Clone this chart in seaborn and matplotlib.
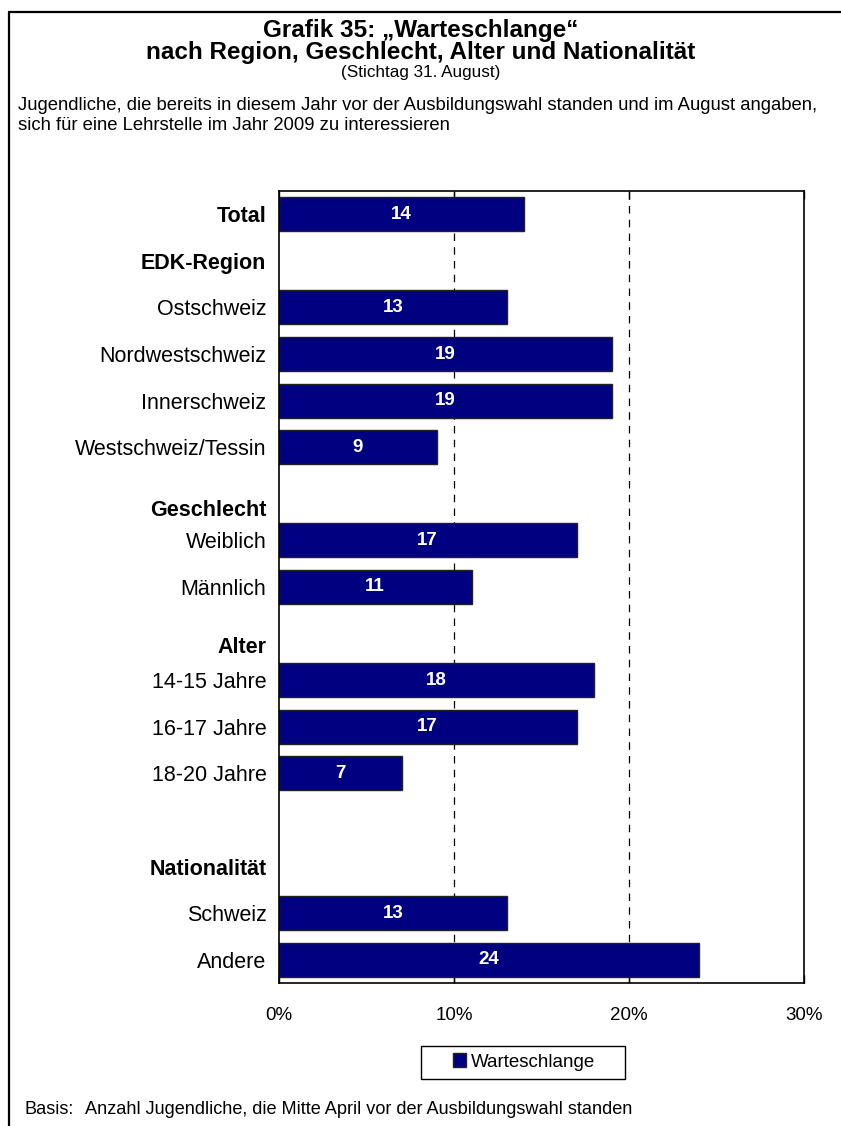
import numpy as np
import pandas as pd
import matplotlib.pyplot as plt
import matplotlib.transforms as mtransforms
from matplotlib.lines import Line2D
from matplotlib.patches import Patch, Rectangle
import seaborn as sns

sns.set_theme(style="white")
plt.rcParams['font.family'] = ['Liberation Sans', 'DejaVu Sans']
plt.rcParams['text.color'] = 'black'

# data (percent); None = heading / spacer row
rows = ["Total", "EDK-Region", "Ostschweiz", "Nordwestschweiz", "Innerschweiz",
        "Westschweiz/Tessin", " ", "Weiblich", "Männlich", "  ",
        "14-15 Jahre", "16-17 Jahre", "18-20 Jahre", "   ", "Nationalität",
        "Schweiz", "Andere"]
values = [14, None, 13, 19, 19, 9, None, 17, 11, None, 18, 17, 7, None, None, 13, 24]
tick_labels = ["Total", "EDK-Region", "Ostschweiz", "Nordwestschweiz", "Innerschweiz",
               "Westschweiz/Tessin", "Geschlecht", "Weiblich", "Männlich", "Alter",
               "14-15 Jahre", "16-17 Jahre", "18-20 Jahre", "", "Nationalität",
               "Schweiz", "Andere"]
bold_labels = ["Total", "EDK-Region", "Geschlecht", "Alter", "Nationalität"]
x_ticks = [0, 10, 20, 30]

df = pd.DataFrame({"row": rows, "value": values})

W, H = 841, 1126
fig = plt.figure(figsize=(W / 100, H / 100), dpi=100)
fig.patch.set_facecolor("white")
ax = fig.add_axes([279 / W, 1 - 983 / H, (804 - 279) / W, (983 - 191) / H])

for g in [10, 20]:
    ax.axvline(g, color="black", lw=0.9, ls=(0, (6, 5)), zorder=0)

sns.barplot(data=df.dropna(), x="value", y="row", order=rows, orient="h",
            color="#000080", saturation=1, edgecolor="#222222", linewidth=1,
            width=0.73, ax=ax, zorder=2)

# value labels inside the bars
for i, v in enumerate(values):
    if v is None:
        continue
    ax.text(v / 2, i, f"{v}", ha="center", va="center", color="white",
            fontsize=13.5, fontweight="bold", zorder=3)

ax.set_xlim(0, 30)
ax.set_ylim(len(rows) - 0.5, -0.5)
ax.set_xticks(x_ticks)
ax.set_xticklabels([f"{t}%" for t in x_ticks], fontsize=13.5)
ax.set_yticks(range(len(rows)))
ax.set_yticklabels(tick_labels, fontsize=15.5)
ax.set_xlabel("")
ax.set_ylabel("")
ax.tick_params(axis="x", which="both", direction="in", length=6, width=1,
               top=True, bottom=True, pad=17, colors="black")
ax.tick_params(axis="y", length=0, pad=9, colors="black")
for lab in ax.get_yticklabels():
    if lab.get_text() in bold_labels:
        lab.set_fontweight("bold")
    if lab.get_text() in ("Geschlecht", "Alter"):
        shift = {"Geschlecht": -14, "Alter": -11}[lab.get_text()]
        lab.set_transform(lab.get_transform() +
                          mtransforms.ScaledTranslation(0, shift / 100, fig.dpi_scale_trans))
for sp in ax.spines.values():
    sp.set_visible(True)
    sp.set_color("black")
    sp.set_linewidth(1.2)

# titles
fig.text(0.5, 1 - 30 / H, "Grafik 35: \u201eWarteschlange\u201c", ha="center", va="center",
         fontsize=17.5, fontweight="bold")
fig.text(0.5, 1 - 52 / H, "nach Region, Geschlecht, Alter und Nationalität", ha="center",
         va="center", fontsize=17.5, fontweight="bold")
fig.text(0.5, 1 - 72 / H, "(Stichtag 31. August)", ha="center", va="center", fontsize=12.3)
fig.text(18 / W, 1 - 105 / H,
         "Jugendliche, die bereits in diesem Jahr vor der Ausbildungswahl standen und im August angaben,",
         ha="left", va="center", fontsize=13.3)
fig.text(18 / W, 1 - 125 / H, "sich für eine Lehrstelle im Jahr 2009 zu interessieren",
         ha="left", va="center", fontsize=13.3)
fig.text(25 / W, 1 - 1110 / H, "Basis:", ha="left", va="center", fontsize=13.1)
fig.text(85 / W, 1 - 1110 / H, "Anzahl Jugendliche, die Mitte April vor der Ausbildungswahl standen",
         ha="left", va="center", fontsize=13.1)

# legend (content without frame, box drawn around it)
handle = Patch(facecolor="#000080", edgecolor="#222222", label="Warteschlange")
leg = fig.legend(handles=[handle], loc="center", bbox_to_anchor=(524 / W, 1 - 1062 / H),
                 frameon=False, fontsize=13.5, handlelength=0.7, handleheight=0.7,
                 handletextpad=0.3, borderpad=0, borderaxespad=0)
fig.add_artist(Rectangle((421 / W, 1 - 1079 / H), (625 - 421) / W, (1079 - 1046) / H,
                         transform=fig.transFigure, facecolor="none", edgecolor="black",
                         lw=1))

# outer frame (left and top edges)
fig.add_artist(Line2D([9 / W, 9 / W], [0, 1 - 12 / H], color="black", lw=1.6))
fig.add_artist(Line2D([9 / W, 1], [1 - 12 / H, 1 - 12 / H], color="black", lw=1.6))

fig.savefig("out.png", dpi=100, facecolor="white")
